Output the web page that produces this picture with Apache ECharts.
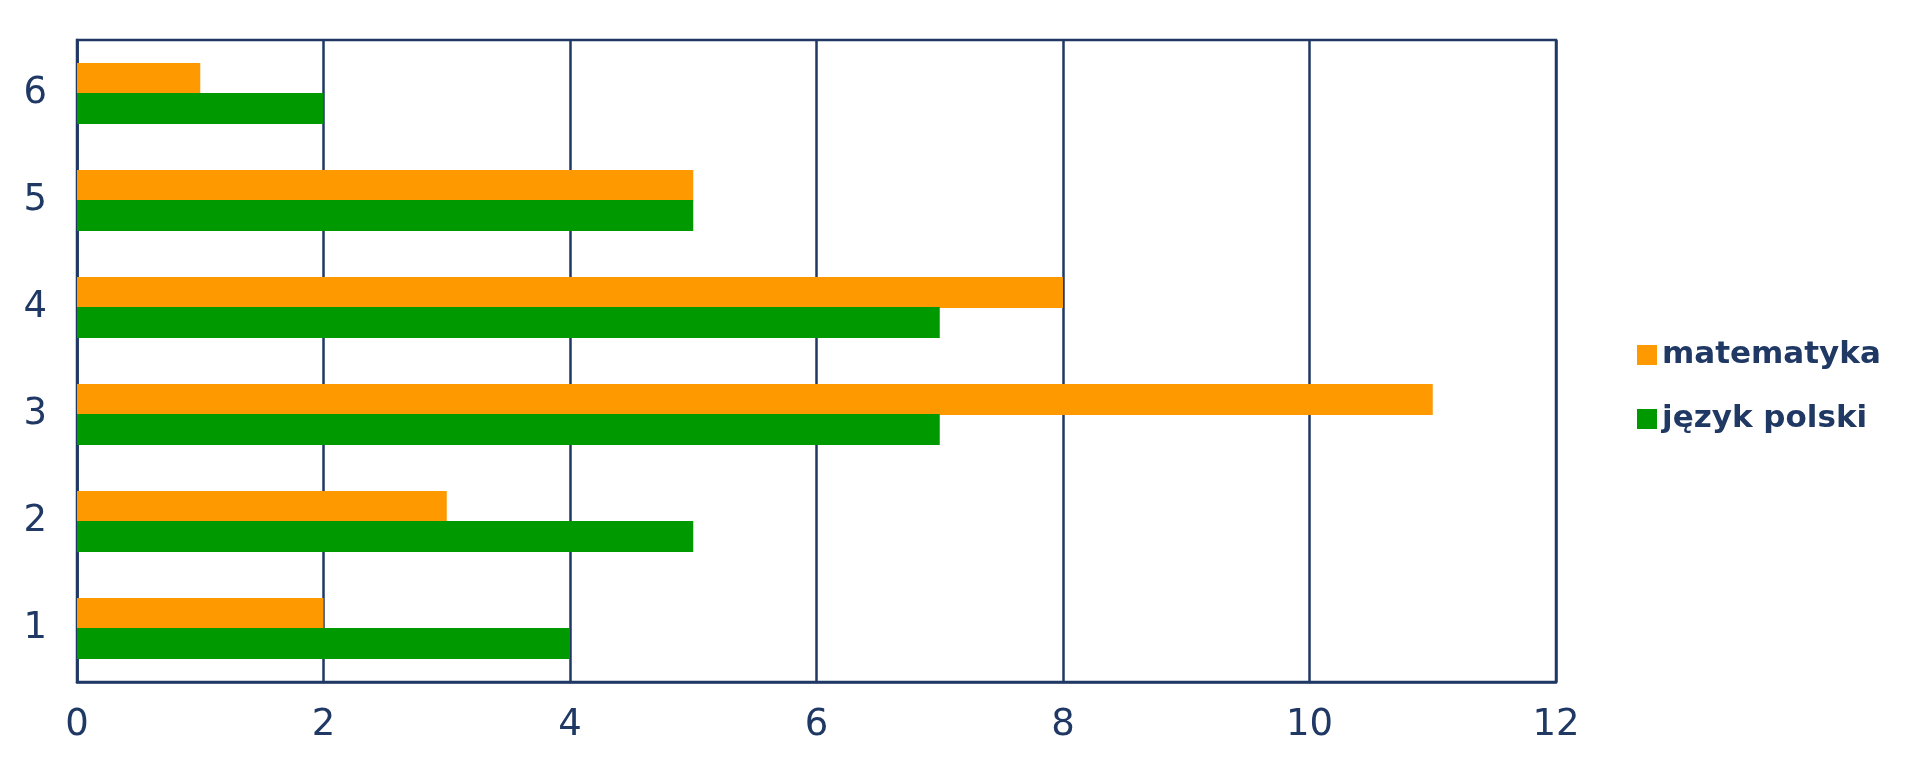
<!DOCTYPE html>
<html>
<head>
<meta charset="utf-8">
<script src="https://cdn.jsdelivr.net/npm/echarts@6/dist/echarts.min.js"></script>
<style>html,body{margin:0;padding:0;background:#fff}#c{width:1920px;height:772px}</style>
</head>
<body>
<div id="c"></div>
<script>
const categories = ['1', '2', '3', '4', '5', '6'];
const seriesNames = ['matematyka', 'język polski'];
const matematyka = [2, 3, 11, 8, 5, 1];
const jezykPolski = [4, 5, 7, 7, 5, 2];
const xTicks = { min: 0, max: 12, interval: 2 };

const navy = '#1F3864';
const chart = echarts.init(document.getElementById('c'));
chart.setOption({
  animation: false,
  backgroundColor: '#ffffff',
  textStyle: { fontFamily: 'DejaVu Sans' },
  grid: { left: 77, right: 364, top: 40, bottom: 90, show: true, borderColor: navy, borderWidth: 2.5, backgroundColor: 'transparent' },
  legend: {
    orient: 'vertical', left: 1632, top: 334,
    itemWidth: 20, itemHeight: 20, itemGap: 32,
    icon: 'rect',
    data: seriesNames,
    textStyle: { color: navy, fontSize: 31, fontWeight: 'bold', fontFamily: 'DejaVu Sans', lineHeight: 32 }
  },
  xAxis: {
    type: 'value', min: xTicks.min, max: xTicks.max, interval: xTicks.interval,
    axisLine: { show: true, lineStyle: { color: navy, width: 2.5 } },
    axisTick: { show: false },
    splitLine: { show: true, lineStyle: { color: navy, width: 2.5 } },
    axisLabel: { color: navy, fontSize: 37, margin: 25, fontFamily: 'DejaVu Sans' }
  },
  yAxis: {
    type: 'category', data: categories,
    axisLine: { show: true, lineStyle: { color: navy, width: 2.5 } },
    axisTick: { show: false },
    axisLabel: { color: navy, fontSize: 37, margin: 30, fontFamily: 'DejaVu Sans' }
  },
  series: [
    { name: seriesNames[0], type: 'bar', data: matematyka, itemStyle: { color: '#FF9900' }, barWidth: 31, barGap: '-4%' },
    { name: seriesNames[1], type: 'bar', data: jezykPolski, itemStyle: { color: '#009900' }, barWidth: 31, barGap: '-4%' }
  ]
});
</script>
</body>
</html>
